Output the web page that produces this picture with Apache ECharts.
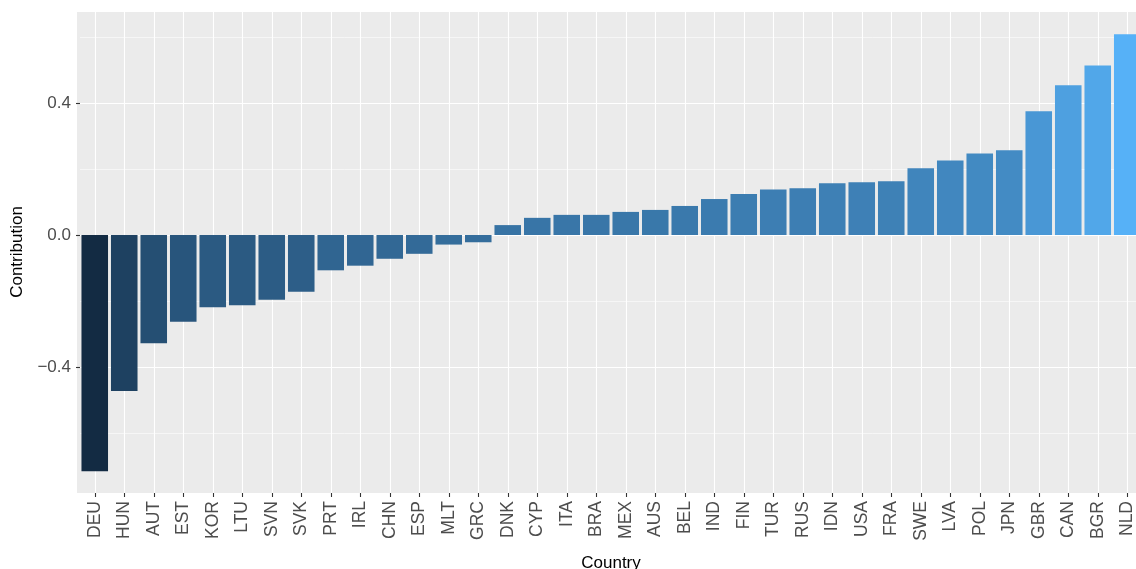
<!DOCTYPE html>
<html>
<head>
<meta charset="utf-8">
<script src="https://cdn.jsdelivr.net/npm/echarts@6/dist/echarts.min.js"></script>
<style>
html, body { margin: 0; padding: 0; background: #fff; }
#main { width: 1136px; height: 569px; }
</style>
</head>
<body>
<div id="main"></div>
<script>
// data
var countries = ['DEU', 'HUN', 'AUT', 'EST', 'KOR', 'LTU', 'SVN', 'SVK', 'PRT', 'IRL', 'CHN', 'ESP',
    'MLT', 'GRC', 'DNK', 'CYP', 'ITA', 'BRA', 'MEX', 'AUS', 'BEL', 'IND', 'FIN', 'TUR',
    'RUS', 'IDN', 'USA', 'FRA', 'SWE', 'LVA', 'POL', 'JPN', 'GBR', 'CAN', 'BGR', 'NLD'];
var contribution = [-0.716, -0.473, -0.328, -0.263, -0.219, -0.213, -0.196, -0.172, -0.107, -0.093, -0.072, -0.057,
    -0.029, -0.022, 0.030, 0.052, 0.061, 0.061, 0.070, 0.076, 0.088, 0.109, 0.124, 0.138,
    0.142, 0.157, 0.160, 0.163, 0.202, 0.226, 0.247, 0.257, 0.375, 0.454, 0.514, 0.608];
var yTicks = [-0.4, 0, 0.4];
var yTickLabels = ['\u22120.4', '0.0', '0.4'];

var lowColor = '#132B43', highColor = '#56B1F7';

// ggplot style gradient, interpolated in Lab
function hexToLab(hex) {
    var rgb = [1, 3, 5].map(function (i) { return parseInt(hex.substr(i, 2), 16) / 255; });
    var lin = rgb.map(function (c) { return c <= 0.04045 ? c / 12.92 : Math.pow((c + 0.055) / 1.055, 2.4); });
    var x = (0.4124 * lin[0] + 0.3576 * lin[1] + 0.1805 * lin[2]) / 0.95047;
    var y = (0.2126 * lin[0] + 0.7152 * lin[1] + 0.0722 * lin[2]);
    var z = (0.0193 * lin[0] + 0.1192 * lin[1] + 0.9505 * lin[2]) / 1.08883;
    var f = function (t) { return t > 0.008856 ? Math.cbrt(t) : 7.787 * t + 16 / 116; };
    return [116 * f(y) - 16, 500 * (f(x) - f(y)), 200 * (f(y) - f(z))];
}
function labToHex(lab) {
    var fy = (lab[0] + 16) / 116, fx = fy + lab[1] / 500, fz = fy - lab[2] / 200;
    var inv = function (t) { return t * t * t > 0.008856 ? t * t * t : (t - 16 / 116) / 7.787; };
    var x = inv(fx) * 0.95047, y = inv(fy), z = inv(fz) * 1.08883;
    var lin = [3.2406 * x - 1.5372 * y - 0.4986 * z, -0.9689 * x + 1.8758 * y + 0.0415 * z, 0.0557 * x - 0.2040 * y + 1.0570 * z];
    return '#' + lin.map(function (c) {
        c = c <= 0.0031308 ? 12.92 * c : 1.055 * Math.pow(c, 1 / 2.4) - 0.055;
        var v = Math.round(Math.max(0, Math.min(1, c)) * 255);
        return (v < 16 ? '0' : '') + v.toString(16);
    }).join('');
}
var labLow = hexToLab(lowColor), labHigh = hexToLab(highColor);
var vMin = Math.min.apply(null, contribution), vMax = Math.max.apply(null, contribution);
function fillFor(v) {
    var t = (v - vMin) / (vMax - vMin);
    return labToHex(labLow.map(function (a, i) { return a + (labHigh[i] - a) * t; }));
}

var barData = contribution.map(function (v) {
    return { value: v, itemStyle: { color: fillFor(v) } };
});

var font = 'Liberation Sans, Arial, sans-serif';
var chart = echarts.init(document.getElementById('main'));

chart.setOption({
    animation: false,
    textStyle: { fontFamily: font },
    graphic: [
        {
            type: 'rect', z: -10, silent: true,
            shape: { x: 77, y: 12, width: 1070, height: 481 },
            style: { fill: '#EBEBEB' }
        },
        {
            type: 'text', silent: true,
            x: 17, y: 252, rotation: Math.PI / 2,
            style: { text: 'Contribution', fontSize: 17, fontFamily: font, fill: '#000', align: 'center', verticalAlign: 'middle' }
        }
    ],
    grid: { left: 80, top: -29, width: 1062, height: 528, containLabel: false, outerBoundsMode: 'none' },
    xAxis: {
        type: 'category',
        data: countries,
        offset: -6,
        axisLine: { show: false, onZero: false },
        axisTick: { show: true, alignWithLabel: true, length: 4, lineStyle: { color: '#333', width: 1.1 } },
        axisLabel: { rotate: 90, color: '#4D4D4D', fontSize: 17.5, margin: 8 },
        splitLine: { show: true, alignWithLabel: true, lineStyle: { color: '#fff', width: 1.1 } },
        name: 'Country',
        nameLocation: 'middle',
        nameGap: 62,
        nameTextStyle: { color: '#000', fontSize: 17 }
    },
    yAxis: {
        type: 'value',
        min: -0.8,
        max: 0.8,
        interval: 0.4,
        axisLine: { show: false },
        axisTick: { show: true, customValues: yTicks, length: 4, lineStyle: { color: '#333', width: 1.1 } },
        axisLabel: {
            customValues: yTicks,
            color: '#4D4D4D', fontSize: 17, margin: 9,
            formatter: function (v) {
                var i = yTicks.indexOf(Math.round(v * 10) / 10);
                return i < 0 ? '' : yTickLabels[i];
            }
        },
        splitLine: { show: true, lineStyle: { color: '#fff', width: 1.1 } },
        minorTick: { show: false, splitNumber: 2 },
        minorSplitLine: { show: true, lineStyle: { color: '#fff', width: 0.55 } }
    },
    series: [{
        type: 'bar',
        data: barData,
        barWidth: '90%'
    }]
});
</script>
</body>
</html>
